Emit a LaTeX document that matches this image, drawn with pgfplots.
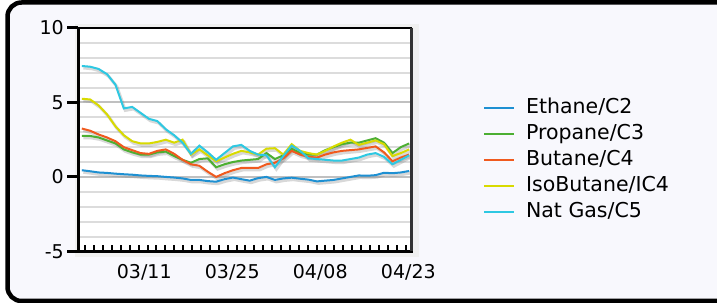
\documentclass[border=0pt]{standalone}
\usepackage{pgfplots}
\pgfplotsset{compat=1.18}
\usepackage{pgfplotstable}
\usepackage{fontspec}
\setmainfont{DejaVu Sans}
\definecolor{bgc}{HTML}{F8F8FD}
\definecolor{cEth}{HTML}{1E90D2}
\definecolor{cPro}{HTML}{4CAF32}
\definecolor{cBut}{HTML}{F05A1E}
\definecolor{cIso}{HTML}{D8DA00}
\definecolor{cNat}{HTML}{2EC8E2}
\definecolor{gridc}{HTML}{DCDCDC}
\definecolor{gridm}{HTML}{C0C0C0}

\pgfplotstableread{
i eth pro but iso nat
0 0.45 2.75 3.25 5.25 7.45
1 0.38 2.75 3.10 5.20 7.40
2 0.30 2.65 2.85 4.80 7.25
3 0.27 2.45 2.65 4.20 6.90
4 0.22 2.25 2.40 3.40 6.20
5 0.18 1.85 2.00 2.80 4.60
6 0.15 1.65 1.80 2.40 4.70
7 0.10 1.50 1.60 2.25 4.30
8 0.07 1.50 1.55 2.25 3.90
9 0.05 1.65 1.75 2.35 3.75
10 0.00 1.70 1.85 2.50 3.20
11 -0.04 1.40 1.55 2.30 2.80
12 -0.10 1.15 1.15 2.50 2.30
13 -0.20 0.95 0.85 1.50 1.55
14 -0.20 1.20 0.75 1.85 2.10
15 -0.28 1.25 0.35 1.45 1.65
16 -0.32 0.65 0.00 1.05 1.15
17 -0.15 0.85 0.25 1.30 1.60
18 -0.04 1.00 0.45 1.55 2.05
19 -0.15 1.10 0.60 1.75 2.15
20 -0.25 1.15 0.60 1.65 1.75
21 -0.08 1.20 0.60 1.50 1.50
22 0.00 1.60 0.85 1.90 1.45
23 -0.20 1.20 0.95 1.93 0.65
24 -0.10 1.45 1.25 1.50 1.40
25 -0.05 1.90 1.75 2.20 2.10
26 -0.12 1.60 1.50 1.75 1.75
27 -0.18 1.50 1.35 1.60 1.25
28 -0.30 1.50 1.30 1.50 1.20
29 -0.25 1.80 1.50 1.75 1.15
30 -0.20 2.00 1.65 2.05 1.10
31 -0.10 2.20 1.75 2.30 1.10
32 0.00 2.30 1.80 2.50 1.20
33 0.10 2.30 1.85 2.15 1.30
34 0.08 2.45 1.95 2.30 1.50
35 0.12 2.60 2.05 2.45 1.60
36 0.28 2.30 1.65 2.20 1.35
37 0.25 1.60 1.05 1.40 0.85
38 0.30 2.00 1.30 1.60 1.15
39 0.40 2.25 1.50 1.85 1.45
}\data

\begin{document}
\begin{tikzpicture}
\clip (0,0) rectangle (717bp,303bp);
\fill[white] (0,0) rectangle (717bp,303bp);
\draw[line width=4.5bp, rounded corners=14bp, fill=bgc] (7.5bp,2bp) rectangle (740bp,300.5bp);
\fill[gray!12] (75bp,46bp) rectangle (419bp,279bp);
\begin{axis}[
  name=ax,
  at={(78.3bp,51.6bp)}, anchor=south west,
  scale only axis, width=333bp, height=223.4bp,
  xmin=-0.42, xmax=39.25, ymin=-5, ymax=10,
  axis background/.style={fill=white},
  axis line style={line width=1.5bp, black},
  xtick={7.44,17.92,28.4,38.9},
  xticklabels={03/11,03/25,04/08,04/23},
  minor xtick={0.417,1.4765,...,38.6},
  ytick={-5,0,5,10},
  minor ytick={-4,-3,-2,-1,1,2,3,4,6,7,8,9},
  ymajorgrids, yminorgrids,
  major grid style={gridm, line width=2bp},
  minor grid style={gridc, line width=2bp},
  xtick pos=left, ytick pos=left,
  xtick align=inside, ytick align=outside,
  major tick length=11bp, minor tick length=6.5bp,
  major x tick style={draw=none},
  minor x tick style={black, line width=2bp},
  major y tick style={black, line width=3bp},
  minor y tick style={draw=none},
  tick label style={font=\fontsize{19bp}{22bp}\selectfont},
  xticklabel style={yshift=-9bp},
  /pgf/number format/assume math mode=true,
  legend style={at={(1.215,0.6835)}, anchor=north west, draw=none, fill=none,
    inner sep=0pt, font=\fontsize{20.5bp}{24bp}\selectfont, row sep=6.85bp,
    nodes={inner sep=0pt, text height=15bp, text depth=4bp},
    /tikz/every odd column/.append style={column sep=11bp}},
  legend cell align=left,
  legend image code/.code={\draw[#1, line width=2bp] (0bp,0bp) -- (30bp,0bp);},
]
\foreach \c in {eth,pro,but,iso,nat}{
  \addplot[gray, opacity=0.3, line width=3bp, xshift=1.5bp, yshift=-2bp, forget plot] table[x=i,y=\c]{\data};
}
\addplot[cEth, line width=2bp] table[x=i,y=eth]{\data};
\addlegendentry{Ethane/C2}
\addplot[cPro, line width=2bp] table[x=i,y=pro]{\data};
\addlegendentry{Propane/C3}
\addplot[cBut, line width=2bp] table[x=i,y=but]{\data};
\addlegendentry{Butane/C4}
\addplot[cIso, line width=2bp] table[x=i,y=iso]{\data};
\addlegendentry{IsoButane/IC4}
\addplot[cNat, line width=2bp] table[x=i,y=nat]{\data};
\addlegendentry{Nat Gas/C5}
\end{axis}
\draw[line width=3.5bp, black] ([xshift=-1.2bp]ax.south west) -- ([xshift=1.2bp]ax.south east);
\draw[line width=3bp, black] (ax.south west) -- (ax.north west);
\draw[line width=2.5bp, black!80] (ax.south east) -- (ax.north east);
\end{tikzpicture}
\end{document}
